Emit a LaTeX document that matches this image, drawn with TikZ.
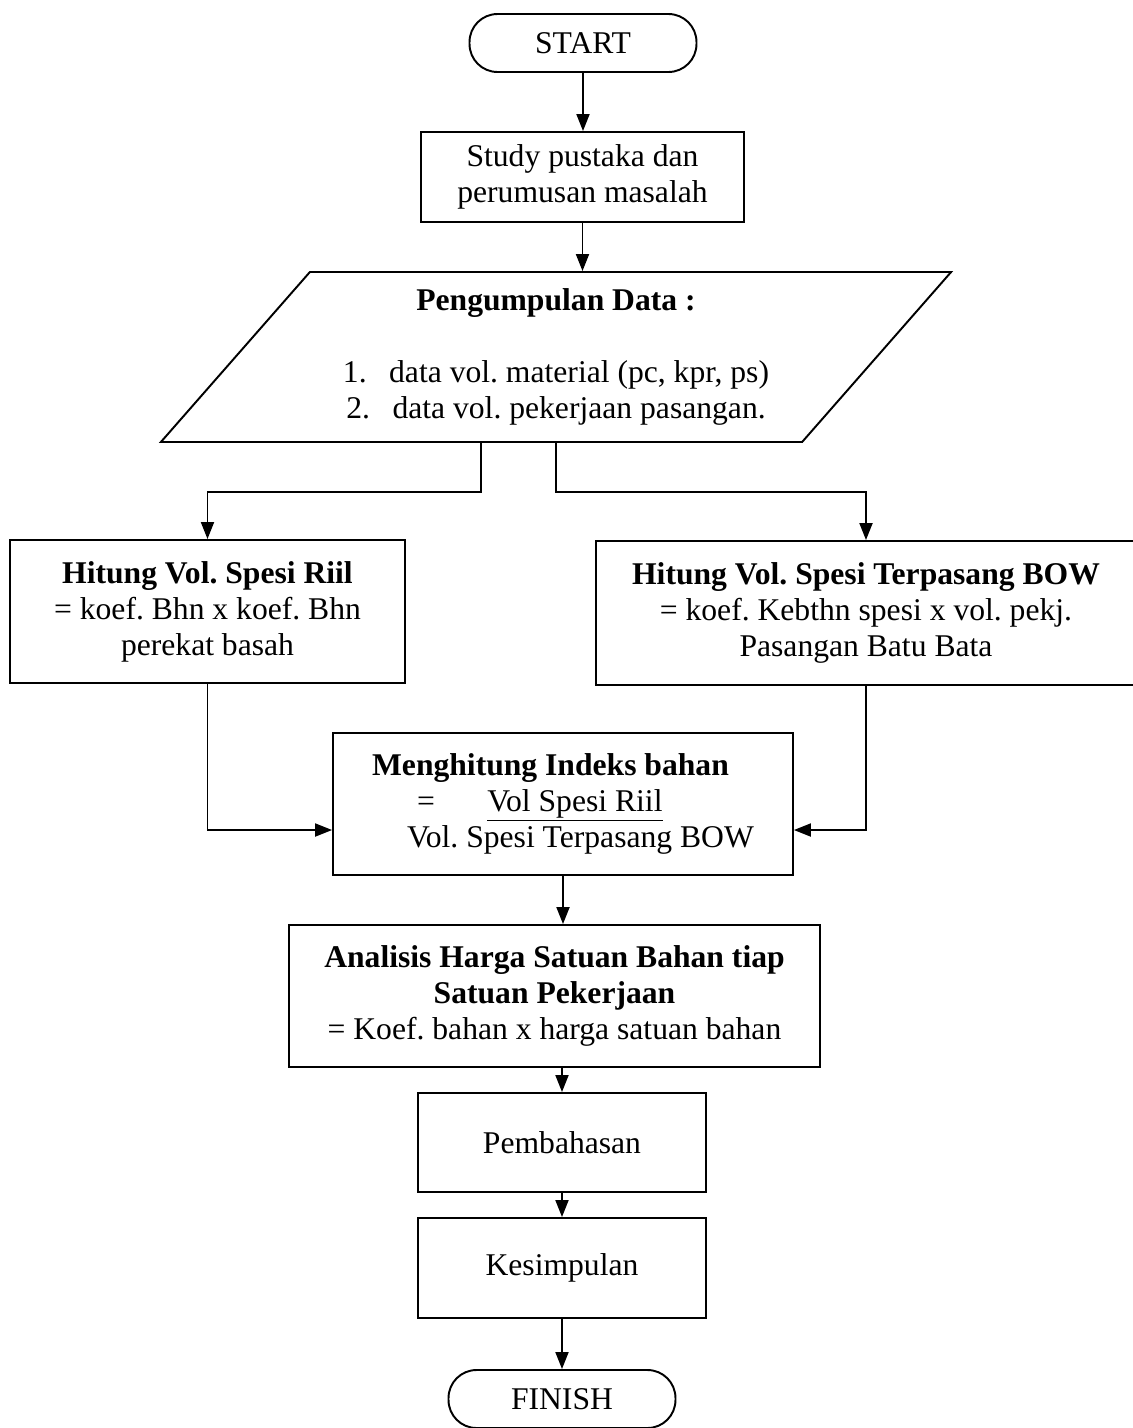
\documentclass[tikz,border=0pt]{standalone}
\usepackage{fontspec}
\setmainfont{Liberation Serif}
\usetikzlibrary{shapes.geometric,arrows.meta,calc}

\begin{document}
\begin{tikzpicture}[x=0.02cm,y=-0.02cm,line width=1.1pt,
  font=\fontsize{18pt}{20.5pt}\selectfont\frenchspacing,
  proses/.style={draw,rectangle,align=center,inner sep=0pt},
  terminal/.style={draw,rectangle,rounded corners=0.56cm,minimum width=4.54cm,minimum height=1.16cm,inner sep=0pt},
  panah/.style={-{Triangle[length=0.34cm,width=0.26cm]}}]
  \useasboundingbox (0,0) rectangle (1133,1428);
  % terminal dan proses
  \node[terminal] (start) at (583,43) {START};
  \node[proses,minimum width=6.46cm,minimum height=1.8cm] (studi) at (582.5,177) {Study pustaka dan\\perumusan masalah};
  \node[draw,trapezium,trapezium left angle=46.7,trapezium right angle=133.3,trapezium stretches=true,
    minimum width=15.84cm,minimum height=3.4cm,inner sep=0pt,align=center] (data) at (556,357)
    {\textbf{Pengumpulan Data :}\\[20.5pt]1.\hspace{0.45cm}data vol. material (pc, kpr, ps)\\2.\hspace{0.45cm}data vol. pekerjaan pasangan.};
  \node[proses,minimum width=7.9cm,minimum height=2.86cm] (riil) at (207.5,611.5)
    {\textbf{Hitung Vol. Spesi Riil}\\= koef. Bhn x koef. Bhn\\perekat basah};
  \node[proses,minimum width=10.8cm,minimum height=2.88cm] (bow) at (866,613)
    {\textbf{Hitung Vol. Spesi Terpasang BOW}\\= koef. Kebthn spesi x vol. pekj.\\Pasangan Batu Bata};
  \node[proses,align=left,minimum width=9.2cm,minimum height=2.84cm] (indeks) at (563,804)
    {\textbf{Menghitung Indeks bahan}\\\hspace*{0.9cm}=\hspace{1.05cm}\underline{Vol Spesi Riil}\\\hspace*{0.7cm}Vol. Spesi Terpasang BOW};
  \node[proses,minimum width=10.62cm,minimum height=2.84cm] (analisis) at (554.5,996)
    {\textbf{Analisis Harga Satuan Bahan tiap}\\\textbf{Satuan Pekerjaan}\\= Koef. bahan x harga satuan bahan};
  \node[proses,minimum width=5.76cm,minimum height=1.98cm] (bahas) at (562,1142.5) {Pembahasan};
  \node[proses,minimum width=5.76cm,minimum height=2cm] (simpul) at (562,1268) {Kesimpulan};
  \node[terminal] (finish) at (562,1399) {FINISH};
  % panah
  \draw[panah] (start.south) -- (start.south |- studi.north);
  \draw[panah] (studi.south) -- (studi.south |- data.north);
  \draw[panah] (data.bottom side) -- ++(0,49) -| (riil.north);
  \draw[panah] (data.center |- data.south) -- ++(0,49) -| (bow.north);
  \draw[panah] (riil.south) |- ($(indeks.west)+(0,26)$);
  \draw[panah] (bow.south) |- ($(indeks.east)+(0,26)$);
  \draw[panah] (indeks.south) -- (indeks.south |- analisis.north);
  \draw[panah] (bahas.north |- analisis.south) -- (bahas.north);
  \draw[panah] (bahas.south) -- (simpul.north);
  \draw[panah] (simpul.south) -- (finish.north);
\end{tikzpicture}
\end{document}
